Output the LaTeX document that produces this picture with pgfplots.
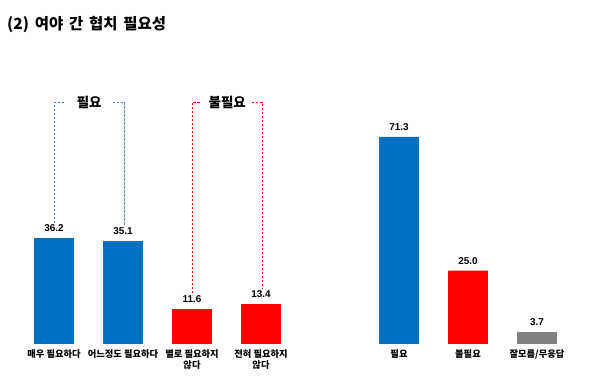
\documentclass[border=0pt]{standalone}
\usepackage{pgfplots}
\pgfplotsset{compat=1.18}
\usepackage{pgfplotstable}
\usepackage{fontspec}
\setmainfont{Noto Sans CJK KR}
\newfontfamily\arial{Liberation Sans}
\definecolor{cblue}{RGB}{0,112,192}
\definecolor{cred}{RGB}{255,0,0}
\definecolor{cgray}{RGB}{128,128,128}
\definecolor{bblue}{RGB}{79,129,189}
\pgfplotstableread{
x y
0 36.2
1 35.1
5 71.3
}\bluedata
\pgfplotstableread{
x y
2 11.6
3 13.4
6 25.0
}\reddata
\pgfplotstableread{
x y
7 3.7
}\graydata
\begin{document}
\begin{tikzpicture}
\begin{axis}[
  scale only axis, width=600bp, height=379bp,
  xmin=-0.7826, xmax=7.913, ymin=-12.46, ymax=118.69,
  axis line style={draw=none}, ytick=\empty,
  xtick={0,1,2,3,5,6,7},
  xticklabels={매우 필요하다, 어느정도 필요하다, {별로 필요하지\\않다}, {전혀 필요하지\\않다}, 필요, 불필요, 잘모름/무응답},
  xtick style={draw=none},
  xticklabel style={font=\bfseries\fontsize{9.3}{11}\selectfont, align=center, yshift=37bp},
  ybar, bar width=39bp, bar shift=0pt,
  nodes near coords,
  every node near coord/.append style={font=\arial\bfseries\fontsize{10}{11}\selectfont, yshift=3bp, text=black},
  /pgf/number format/.cd, fixed, fixed zerofill, precision=1, assume math mode=true,
  /pgfplots/.cd,
  clip=false,
]
\addplot[fill=cblue, draw=cblue] table[x=x,y=y] {\bluedata};
\addplot[fill=cred, draw=cred] table[x=x,y=y] {\reddata};
\addplot[fill=cgray, draw=cgray] table[x=x,y=y] {\graydata};
\draw[bblue, line width=0.9bp, dash pattern=on 2.4bp off 1.6bp] (axis cs:0.01,41.5) -- (axis cs:0.01,83.4) -- (axis cs:0.16,83.4);
\draw[bblue, line width=0.9bp, dash pattern=on 2.4bp off 1.6bp] (axis cs:0.85,83.4) -- (axis cs:1.02,83.4) -- (axis cs:1.02,40.6);
\draw[cred, line width=0.9bp, dash pattern=on 2.4bp off 1.6bp] (axis cs:2.01,17.2) -- (axis cs:2.01,83.4) -- (axis cs:2.13,83.4);
\draw[cred, line width=0.9bp, dash pattern=on 2.4bp off 1.6bp] (axis cs:2.87,83.4) -- (axis cs:3.02,83.4) -- (axis cs:3.02,19.0);
\node[font=\bfseries\fontsize{13.5}{15}\selectfont] at (axis cs:0.51,83.4) {필요};
\node[font=\bfseries\fontsize{13.5}{15}\selectfont] at (axis cs:2.51,83.4) {불필요};
\node[anchor=west, font=\bfseries\fontsize{15.5}{18}\selectfont, inner sep=0pt] at (rel axis cs:0.0117,0.935) {(2)\hspace{0.15em} 여야\hspace{0.15em} 간\hspace{0.15em} 협치\hspace{0.15em} 필요성};
\coordinate (bl) at (rel axis cs:0,0);
\coordinate (tr) at (rel axis cs:1,1);
\end{axis}
\pgfresetboundingbox
\useasboundingbox (bl) rectangle (tr);
\end{tikzpicture}
\end{document}
